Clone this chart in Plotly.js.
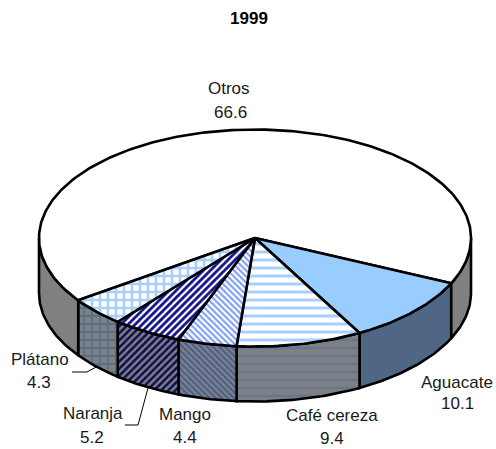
<!DOCTYPE html>
<html><head><meta charset="utf-8">
<script src="https://cdn.plot.ly/plotly-3.0.1.min.js"></script>
<style>html,body{margin:0;padding:0;background:#fff}#c{width:496px;height:449px}</style>
</head><body><div id="c"></div>
<script>
// Data, in drawing order (clockwise from the right-hand edge of the top face)
const categories = ['Aguacate','Café cereza','Mango','Naranja','Plátano','Otros'];
const values = [10.1, 9.4, 4.4, 5.2, 4.3, 66.6];
const chartTitle = '1999';

// Styles per slice
const topStyles = [
  {shape:'',  bg:'#99ccff', fg:'#99ccff', size:8, solidity:0.5},
  {shape:'-', bg:'#ffffff', fg:'#a8d0fb', size:8, solidity:0.38},
  {shape:'\\',bg:'#ffffff', fg:'#7f9ff5', size:4.3, solidity:0.5},
  {shape:'/', bg:'#ffffff', fg:'#10108a', size:5, solidity:0.55},
  {shape:'+', bg:'#ffffff', fg:'#a8d0fb', size:8, solidity:0.55},
  {shape:'',  bg:'#ffffff', fg:'#ffffff', size:8, solidity:0.5}
];
const wallStyles = [
  {shape:'',  bg:'#4f6785', fg:'#4f6785', size:8, solidity:0.5},
  {shape:'-', bg:'#808080', fg:'#5f7997', size:8, solidity:0.3},
  {shape:'\\',bg:'#808080', fg:'#3f5a9a', size:4.3, solidity:0.4},
  {shape:'/', bg:'#808080', fg:'#0c0c58', size:5, solidity:0.5},
  {shape:'+', bg:'#808080', fg:'#55708f', size:8, solidity:0.42},
  {shape:'',  bg:'#808080', fg:'#808080', size:8, solidity:0.5}
];

// Pie geometry in axis units
const cx = 255, cy = 238, rx = 216, ry = 108.5, depth = 55, startDeg = 24.7;
const ink = '#000000', lw = 2.6;

const rad = d => d*Math.PI/180;
const px = d => cx + rx*Math.cos(rad(d));
const py = d => cy + ry*Math.sin(rad(d));
function arc(a,b,dy){
  const n = Math.max(2, Math.ceil(Math.abs(b-a)));
  const xs=[], ys=[];
  for(let i=0;i<=n;i++){const t=a+(b-a)*i/n; xs.push(px(t)); ys.push(py(t)+dy);}
  return [xs,ys];
}
function patt(s){
  return s.shape ? {shape:s.shape,bgcolor:s.bg,fgcolor:s.fg,size:s.size,solidity:s.solidity,fillmode:'replace'} : undefined;
}
function poly(xs,ys,s){
  const t={type:'scatter',mode:'lines',x:xs,y:ys,fill:'toself',fillcolor:s.bg,
    line:{color:ink,width:lw,shape:'linear'},hoverinfo:'skip',showlegend:false,cliponaxis:false};
  const p=patt(s); if(p) t.fillpattern=p;
  return t;
}
const total = values.reduce((a,b)=>a+b,0);
let ang = startDeg;
const spans = values.map(v=>{const a=ang; ang+=v/total*360; return [a,ang];});

const traces=[];
// Walls: only the front half of the ellipse (0..180 degrees) shows
function wall(a,b,s){
  const [x1,y1]=arc(a,b,0), [x2,y2]=arc(b,a,depth);
  traces.push(poly(x1.concat(x2,[x1[0]]), y1.concat(y2,[y1[0]]), s));
}
spans.forEach(([a,b],i)=>{
  if(i===spans.length-1){
    wall(a,180,wallStyles[i]);        // left part of the largest slice
    wall(0,startDeg,wallStyles[i]);   // right part of the largest slice
  } else wall(a,b,wallStyles[i]);
});
// Top faces: largest first
[5,0,1,2,3,4].forEach(i=>{
  const [a,b]=spans[i];
  const [xs,ys]=arc(a,b,0);
  traces.push(poly([cx].concat(xs,[cx]), [cy].concat(ys,[cy]), topStyles[i]));
});
// Leader lines
const leaders = {
  'Plátano':{x:[72,87,98],y:[372,372,366]},
  'Naranja':{x:[125,138,148],y:[425,425,388]}
};
Object.values(leaders).forEach(l=>traces.push({type:'scatter',mode:'lines',x:l.x,y:l.y,
  line:{color:'#000',width:1},hoverinfo:'skip',showlegend:false}));

// Label positions: [x, y of name, x of value, y of value]
const labelPos = {
  'Aguacate':[457,382,457,403],
  'Café cereza':[332,415,332,438],
  'Mango':[185,414,185,437],
  'Naranja':[93,413,92,437],
  'Plátano':[40,359,39,382],
  'Otros':[229,88,230,112]
};
const font = {family:'"Liberation Sans", Arial, sans-serif',size:17,color:'#1a1a1a'};
const annotations = [];
categories.forEach((c,i)=>{
  const p=labelPos[c];
  annotations.push({x:p[0],y:p[1],xref:'x',yref:'y',text:c,showarrow:false,font:font,xanchor:'center',yanchor:'middle'});
  annotations.push({x:p[2],y:p[3],xref:'x',yref:'y',text:values[i].toFixed(1),showarrow:false,font:font,xanchor:'center',yanchor:'middle'});
});

const layout={
  width:496,height:449,margin:{l:0,r:0,t:0,b:0},paper_bgcolor:'#fff',plot_bgcolor:'#fff',
  title:{text:'<b>'+chartTitle+'</b>',x:249/496,xanchor:'center',y:1-18/449,yanchor:'middle',
    font:{family:'"Liberation Sans", Arial, sans-serif',size:17,color:'#000'}},
  xaxis:{range:[0,496],visible:false,fixedrange:true},
  yaxis:{range:[449,0],visible:false,fixedrange:true},
  annotations:annotations,showlegend:false
};
Plotly.newPlot('c',traces,layout,{staticPlot:true,displayModeBar:false});
</script></body></html>
